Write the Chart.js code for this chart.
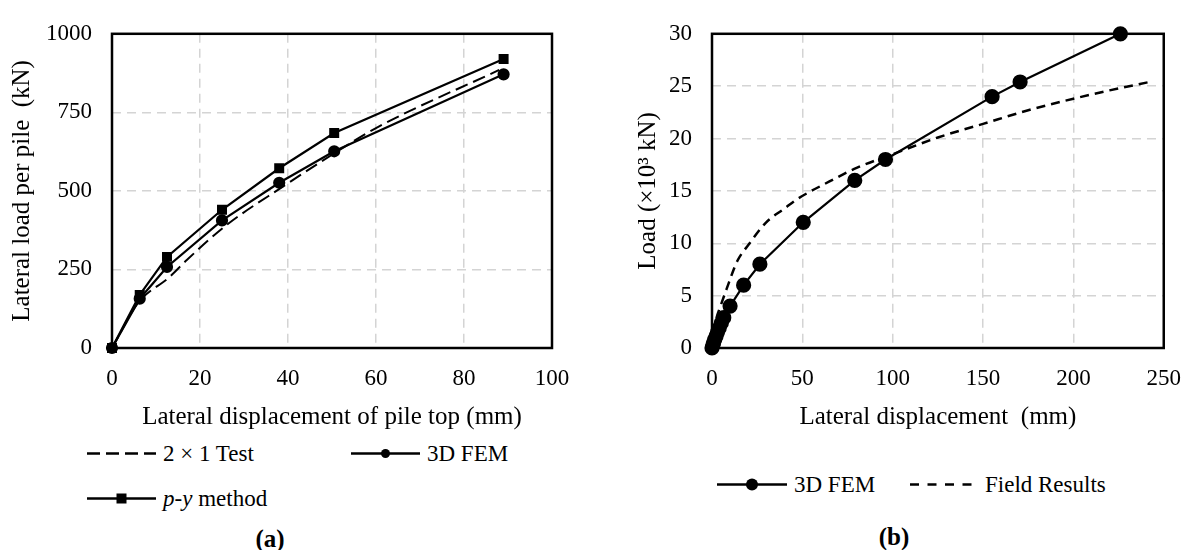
<!DOCTYPE html>
<html>
<head>
<meta charset="utf-8">
<script src="https://cdn.jsdelivr.net/npm/chart.js@4.4.0/dist/chart.umd.min.js"></script>
<style>
    body { margin: 0; background: #fff; width: 1198px; height: 550px; overflow: hidden; position: relative;
           font-family: "Liberation Serif", serif; color: #000; }
    .wrap { position: absolute; top: 0; height: 440px; }
    #wrapA { left: 0; width: 600px; }
    #wrapB { left: 600px; width: 598px; }
    .leg { position: absolute; font-family: "Liberation Serif", serif; font-size: 23px; display: flex;
           align-items: center; white-space: nowrap; line-height: 1; transform: translateY(-50%); }
    .leg svg { margin-right: 7px; }
    .cap { position: absolute; font-family: "Liberation Serif", serif; font-weight: bold; font-size: 25px;
           transform: translate(-50%, -50%); }
</style>
</head>
<body>
<div class="wrap" id="wrapA"><canvas id="chartA"></canvas></div>
<div class="wrap" id="wrapB"><canvas id="chartB"></canvas></div>
<div id="legends"></div>
<div class="cap" style="left:270px;top:539px">(a)</div>
<div class="cap" style="left:894px;top:537px">(b)</div>

<script>
// (a) lateral load per pile vs displacement of pile top
const testX = [0, 6, 13, 17, 26, 39, 50, 60, 88];
const testY = [0, 145, 225, 280, 391, 515, 615, 700, 885];
const femAX = [0, 6.3, 12.5, 25, 38, 50.5, 89];
const femAY = [0, 157, 258, 406, 526, 626, 871];
const pyX = [0, 6.3, 12.5, 25, 38, 50.5, 89];
const pyY = [0, 169, 290, 440, 572, 684, 920];
const xTicksA = [0, 20, 40, 60, 80, 100];
const yTicksA = [0, 250, 500, 750, 1000];

// (b) load vs lateral displacement
const femBX = [0, 0.4, 0.9, 1.5, 2.2, 3, 4, 5.2, 6.5, 10, 17.5, 26.5, 50.5, 79, 96, 155, 170.5, 226];
const femBY = [0, 0.25, 0.5, 0.8, 1.1, 1.5, 1.9, 2.4, 2.9, 4, 6, 8, 12, 16, 18, 24, 25.4, 30];
const fieldX = [0, 1, 2.7, 4.3, 8, 14, 20.4, 30, 40, 47, 65, 80, 100, 125, 150, 175, 200, 220, 242];
const fieldY = [0, 1.5, 3, 3.8, 5.6, 8.3, 9.9, 12, 13.3, 14.2, 15.9, 17.2, 18.5, 20.1, 21.4, 22.7, 23.8, 24.6, 25.4];
const xTicksB = [0, 50, 100, 150, 200, 250];
const yTicksB = [0, 5, 10, 15, 20, 25, 30];

const pts = (xs, ys) => xs.map((x, i) => ({ x: x, y: ys[i] }));
const serif = 'Liberation Serif';

Chart.defaults.font.family = serif;
Chart.defaults.font.size = 23;
Chart.defaults.color = '#000';

// black box around the plot area
const framePlugin = {
    id: 'frame',
    beforeDatasetsDraw(chart) {
        const a = chart.chartArea;
        const ctx = chart.ctx;
        ctx.save();
        ctx.strokeStyle = '#000';
        ctx.lineWidth = 2.5;
        ctx.strokeRect(a.left, a.top, a.right - a.left, a.bottom - a.top);
        ctx.restore();
    }
};

function axes(xTicks, yTicks, xTitle, yTitle, yTitlePad) {
    const grid = () => ({ color: '#d4d4d4', lineWidth: 1.5, drawTicks: false });
    const tickFont = () => ({ family: serif, size: 23 });
    const titleFont = () => ({ family: serif, size: 25 });
    return {
        x: {
            type: 'linear',
            min: xTicks[0], max: xTicks[xTicks.length - 1],
            grid: grid(),
            border: { display: false, dash: [9, 6] },
            afterBuildTicks: s => { s.ticks = xTicks.map(v => ({ value: v })); },
            ticks: { font: tickFont(), color: '#000', padding: 17, maxRotation: 0, callback: v => String(v) },
            title: { display: true, text: xTitle, font: titleFont(), color: '#000', padding: { bottom: 8 } },
            afterFit: s => { s.height = 92; }
        },
        y: {
            type: 'linear',
            min: yTicks[0], max: yTicks[yTicks.length - 1],
            grid: grid(),
            border: { display: false, dash: [9, 6] },
            afterBuildTicks: s => { s.ticks = yTicks.map(v => ({ value: v })); },
            ticks: { font: tickFont(), color: '#000', padding: 20, callback: v => String(v) },
            title: { display: true, text: yTitle, font: titleFont(), color: '#000', padding: { top: yTitlePad } },
            afterFit: s => { s.width = 112; }
        }
    };
}

function baseOptions(scales, rightPad) {
    return {
        responsive: true,
        maintainAspectRatio: false,
        animation: false,
        layout: { padding: { left: 0, top: 21, right: rightPad, bottom: 0 } },
        plugins: { legend: { display: false }, tooltip: { enabled: false } },
        scales: scales
    };
}

new Chart(document.getElementById('chartA'), {
    type: 'line',
    data: {
        datasets: [
            { label: '2 × 1 Test', data: pts(testX, testY), borderColor: '#000', borderWidth: 2,
              borderDash: [13, 6], pointRadius: 0, cubicInterpolationMode: 'monotone', clip: false },
            { label: '3D FEM', data: pts(femAX, femAY), borderColor: '#000', backgroundColor: '#000',
              borderWidth: 2.2, pointStyle: 'circle', pointRadius: 5, tension: 0, clip: false },
            { label: 'p-y method', data: pts(pyX, pyY), borderColor: '#000', backgroundColor: '#000',
              borderWidth: 2.2, pointStyle: 'rect', pointRadius: 5.5, tension: 0, clip: false }
        ]
    },
    options: baseOptions(axes(xTicksA, yTicksA, 'Lateral displacement of pile top (mm)',
        'Lateral load per pile  (kN)', 7), 48),
    plugins: [framePlugin]
});

new Chart(document.getElementById('chartB'), {
    type: 'line',
    data: {
        datasets: [
            { label: 'Field Results', data: pts(fieldX, fieldY), borderColor: '#000', borderWidth: 2.5,
              borderDash: [9, 6], pointRadius: 0, cubicInterpolationMode: 'monotone', clip: false },
            { label: '3D FEM', data: pts(femBX, femBY), borderColor: '#000', backgroundColor: '#000',
              borderWidth: 2.2, pointStyle: 'circle', pointRadius: 6.5, tension: 0, clip: false }
        ]
    },
    options: baseOptions(axes(xTicksB, yTicksB, 'Lateral displacement  (mm)',
        'Load (×10³ kN)', 33), 21),
    plugins: [framePlugin]
});

// legends, drawn as html beneath the charts
function symbol(kind, width) {
    const w = width, m = w / 2;
    let s = `<svg width="${w}" height="16" viewBox="0 0 ${w} 16">`;
    if (kind === 'longdash') s += `<line x1="0" y1="8" x2="${w}" y2="8" stroke="#000" stroke-width="2.5" stroke-dasharray="13 6"/>`;
    else if (kind === 'shortdash') s += `<line x1="0" y1="8" x2="${w}" y2="8" stroke="#000" stroke-width="2.5" stroke-dasharray="9 8.5"/>`;
    else s += `<line x1="0" y1="8" x2="${w}" y2="8" stroke="#000" stroke-width="2.5"/>`;
    if (kind === 'dot') s += `<circle cx="${m}" cy="8" r="4.5" fill="#000"/>`;
    if (kind === 'bigdot') s += `<circle cx="${m}" cy="8" r="6" fill="#000"/>`;
    if (kind === 'square') s += `<rect x="${m - 5}" y="3" width="10" height="10" fill="#000"/>`;
    return s + '</svg>';
}

const legendItems = [
    { kind: 'longdash', text: '2 × 1 Test', left: 87, top: 453, w: 69 },
    { kind: 'dot', text: '3D FEM', left: 351, top: 453, w: 69 },
    { kind: 'square', text: '<i>p</i>-<i>y</i> method', left: 87, top: 498, w: 69 },
    { kind: 'bigdot', text: '3D FEM', left: 717, top: 484, w: 70 },
    { kind: 'shortdash', text: 'Field Results', left: 910, top: 484, w: 68 }
];

const legendBox = document.getElementById('legends');
legendItems.forEach(item => {
    const el = document.createElement('div');
    el.className = 'leg';
    el.style.left = item.left + 'px';
    el.style.top = item.top + 'px';
    el.innerHTML = symbol(item.kind, item.w) + '<span>' + item.text + '</span>';
    legendBox.appendChild(el);
});
</script>
</body>
</html>
